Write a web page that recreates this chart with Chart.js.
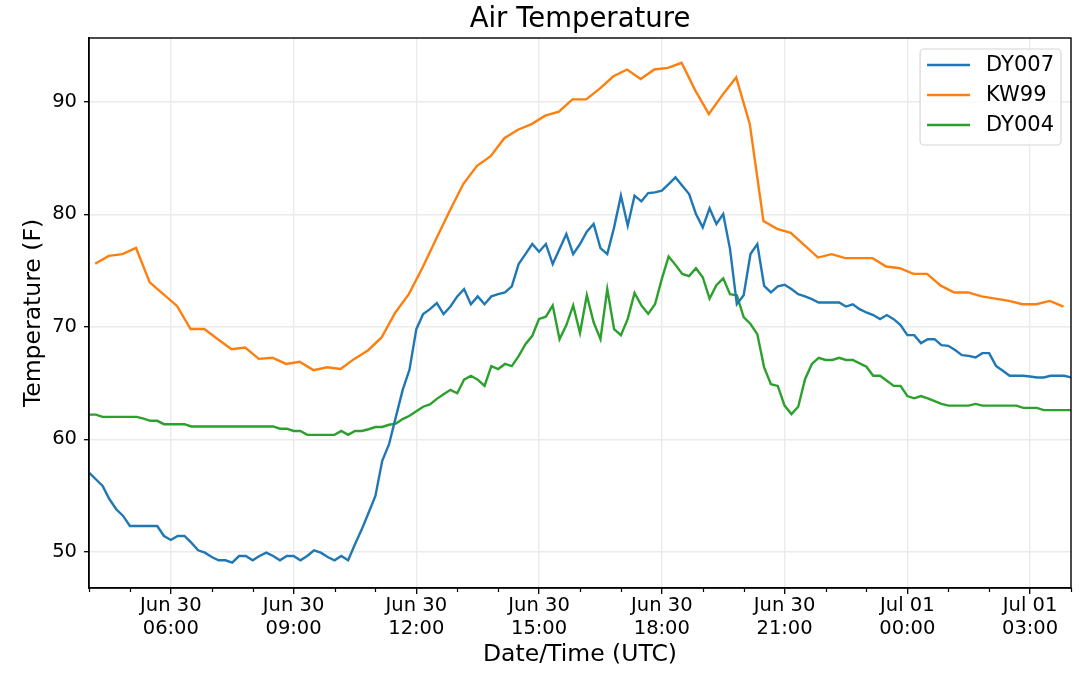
<!DOCTYPE html>
<html><head><meta charset="utf-8">
<script src="https://cdn.jsdelivr.net/npm/chart.js@4.4.0/dist/chart.umd.min.js"></script>
<style>html,body{margin:0;padding:0;background:#fff;overflow:hidden;}</style>
</head><body>
<canvas id="c" width="1080" height="689"></canvas>
<script>
// ---------------- data ----------------
const seriesNames = ["DY007", "KW99", "DY004"];
const seriesColors = ["#1f77b4", "#ff7f0e", "#2ca02c"];

// hours since Jun 30 00:00 UTC
const dyStartHour = 4;            // 04:00 Jun 30
const dyStepMinutes = 10;
const kwStartHour = 4 + 9 / 60;   // 04:09 Jun 30
const kwStepMinutes = 20;

const dy007 = [
  57.05, 56.46, 55.87, 54.68, 53.79, 53.2, 52.31, 52.31, 52.31, 52.31,
  52.31, 51.42, 51.07, 51.42, 51.42, 50.83, 50.15, 49.94, 49.55, 49.26,
  49.26, 49.05, 49.64, 49.64, 49.26, 49.64, 49.94, 49.64, 49.26, 49.64,
  49.64, 49.26, 49.64, 50.15, 49.94, 49.55, 49.26, 49.64, 49.26, 50.68,
  52.01, 53.49, 54.98, 58.09, 59.57, 62.0, 64.4, 66.2, 69.79, 71.13,
  71.57, 72.1, 71.13, 71.8, 72.7, 73.35, 72.0, 72.7, 72.0, 72.7,
  72.9, 73.05, 73.59, 75.57, 76.46, 77.35, 76.67, 77.35, 75.57, 76.9,
  78.24, 76.46, 77.35, 78.45, 79.13, 76.99, 76.46, 78.83, 81.65, 78.98,
  81.65, 81.14, 81.88, 81.94, 82.09, 82.68, 83.27, 82.53, 81.79, 80.02,
  78.83, 80.52, 79.13, 80.02, 76.9, 72.0, 72.8, 76.46, 77.35, 73.64,
  73.05, 73.59, 73.73, 73.35, 72.9, 72.7, 72.46, 72.16, 72.16, 72.16,
  72.16, 71.8, 72.0, 71.57, 71.27, 71.04, 70.68, 71.04, 70.68, 70.15,
  69.26, 69.26, 68.55, 68.9, 68.9, 68.37, 68.31, 67.93, 67.48, 67.42,
  67.27, 67.66, 67.66, 66.53, 66.09, 65.65, 65.65, 65.65, 65.59, 65.5,
  65.5, 65.65, 65.65, 65.65, 65.5
];

const kw99 = [
  75.6, 76.3, 76.45, 77.0, 73.95, 72.9, 71.85, 69.8, 69.8, 68.9,
  68.0, 68.15, 67.15, 67.25, 66.7, 66.9, 66.15, 66.4, 66.25, 67.15,
  67.9, 69.05, 71.25, 72.9, 75.25, 77.8, 80.3, 82.7, 84.3, 85.15,
  86.75, 87.5, 88.0, 88.75, 89.1, 90.2, 90.2, 91.15, 92.25, 92.85,
  92.0, 92.85, 93.0, 93.45, 91.0, 88.9, 90.6, 92.15, 88.0, 79.4,
  78.7, 78.35, 77.25, 76.15, 76.45, 76.1, 76.1, 76.1, 75.35, 75.2,
  74.7, 74.7, 73.65, 73.05, 73.05, 72.7, 72.5, 72.3, 72.0, 72.0,
  72.3, 71.8
];

const dy004 = [
  62.2, 62.2, 62.0, 62.0, 62.0, 62.0, 62.0, 62.0, 61.85, 61.65,
  61.65, 61.35, 61.35, 61.35, 61.35, 61.15, 61.15, 61.15, 61.15, 61.15,
  61.15, 61.15, 61.15, 61.15, 61.15, 61.15, 61.15, 61.15, 60.95, 60.95,
  60.75, 60.75, 60.4, 60.4, 60.4, 60.4, 60.4, 60.75, 60.4, 60.75,
  60.75, 60.9, 61.1, 61.1, 61.3, 61.4, 61.8, 62.1, 62.5, 62.9,
  63.1, 63.6, 64.0, 64.4, 64.1, 65.3, 65.65, 65.3, 64.75, 66.5,
  66.25, 66.7, 66.5, 67.4, 68.45, 69.2, 70.7, 70.9, 71.9, 68.9,
  70.15, 71.9, 69.45, 72.8, 70.4, 68.9, 73.35, 69.8, 69.25, 70.7,
  73.0, 71.9, 71.15, 72.0, 74.25, 76.25, 75.5, 74.7, 74.5, 75.2,
  74.4, 72.5, 73.7, 74.3, 72.9, 72.8, 70.85, 70.25, 69.35, 66.4,
  64.9, 64.75, 63.0, 62.25, 62.9, 65.35, 66.7, 67.25, 67.05, 67.05,
  67.25, 67.05, 67.05, 66.75, 66.45, 65.65, 65.65, 65.2, 64.75, 64.75,
  63.85, 63.65, 63.85, 63.65, 63.4, 63.15, 63.0, 63.0, 63.0, 63.0,
  63.15, 63.0, 63.0, 63.0, 63.0, 63.0, 63.0, 62.8, 62.8, 62.8,
  62.6, 62.6, 62.6, 62.6, 62.6
];

const xTickHours = [6, 9, 12, 15, 18, 21, 24, 27];
const xTickLabels = [
  ["Jun 30", "06:00"], ["Jun 30", "09:00"], ["Jun 30", "12:00"], ["Jun 30", "15:00"],
  ["Jun 30", "18:00"], ["Jun 30", "21:00"], ["Jul 01", "00:00"], ["Jul 01", "03:00"]
];
const yTicks = [50, 60, 70, 80, 90];

const xMin = 4, xMax = 28;
const yMin = 46.8, yMax = 95.65;

// ---------------- build ----------------
function toPoints(values, startHour, stepMin) {
  return values.map((v, i) => ({ x: startHour + i * stepMin / 60, y: v }));
}
const seriesData = [
  toPoints(dy007, dyStartHour, dyStepMinutes),
  toPoints(kw99, kwStartHour, kwStepMinutes),
  toPoints(dy004, dyStartHour, dyStepMinutes)
];

const FONT = "'DejaVu Sans', 'Liberation Sans', sans-serif";
Chart.defaults.font.family = FONT;
Chart.defaults.color = "#000";

const frameAndMinor = {
  id: "frameAndMinor",
  afterDatasetsDraw(chart) {
    const ctx = chart.ctx, a = chart.chartArea, xs = chart.scales.x;
    ctx.save();
    ctx.strokeStyle = "#000";
    ctx.lineWidth = 1.2;
    ctx.beginPath();
    for (let h = Math.ceil(xMin); h <= xMax; h++) {
      if (xTickHours.includes(h)) continue;
      const px = Math.round(xs.getPixelForValue(h)) + 0.5;
      ctx.moveTo(px, a.bottom);
      ctx.lineTo(px, a.bottom + 4);
    }
    ctx.stroke();
    ctx.lineWidth = 1.4;
    ctx.strokeRect(a.left, a.top, a.right - a.left, a.bottom - a.top);
    ctx.restore();
  }
};

const mplLegend = {
  id: "mplLegend",
  afterDraw(chart) {
    const ctx = chart.ctx, a = chart.chartArea;
    const fontPx = 21;
    ctx.save();
    ctx.font = fontPx + "px " + FONT;
    const textW = Math.max(...seriesNames.map(n => ctx.measureText(n).width));
    const padL = 7, lineLen = 43, gap = 16, padR = 7, rowH = 30, padT = 16;
    const w = padL + lineLen + gap + textW + padR;
    const h = rowH * seriesNames.length + 6;
    const x0 = a.right - 10 - w, y0 = a.top + 11;
    const r = 4;
    ctx.beginPath();
    ctx.moveTo(x0 + r, y0);
    ctx.arcTo(x0 + w, y0, x0 + w, y0 + h, r);
    ctx.arcTo(x0 + w, y0 + h, x0, y0 + h, r);
    ctx.arcTo(x0, y0 + h, x0, y0, r);
    ctx.arcTo(x0, y0, x0 + w, y0, r);
    ctx.closePath();
    ctx.fillStyle = "rgba(255,255,255,0.8)";
    ctx.fill();
    ctx.strokeStyle = "#d6d6d6";
    ctx.lineWidth = 1.2;
    ctx.stroke();
    seriesNames.forEach((name, i) => {
      const cy = y0 + padT + i * rowH;
      ctx.strokeStyle = seriesColors[i];
      ctx.lineWidth = 2.4;
      ctx.beginPath();
      ctx.moveTo(x0 + padL, cy);
      ctx.lineTo(x0 + padL + lineLen, cy);
      ctx.stroke();
      ctx.fillStyle = "#000";
      ctx.textAlign = "left";
      ctx.textBaseline = "middle";
      ctx.fillText(name, x0 + padL + lineLen + gap, cy + 1);
    });
    ctx.restore();
  }
};

new Chart(document.getElementById("c"), {
  type: "line",
  data: {
    datasets: seriesNames.map((name, i) => ({
      label: name,
      data: seriesData[i],
      borderColor: seriesColors[i],
      backgroundColor: seriesColors[i],
      borderWidth: 2.4,
      pointRadius: 0,
      tension: 0,
      fill: false
    }))
  },
  options: {
    responsive: false,
    animation: false,
    devicePixelRatio: 1,
    parsing: false,
    layout: { padding: { left: 0, right: 9, top: 0, bottom: 0 } },
    plugins: {
      legend: { display: false },
      tooltip: { enabled: false },
      title: {
        display: true,
        text: "Air Temperature",
        fullSize: false,
        color: "#000",
        font: { size: 27.5, weight: "normal", family: FONT, lineHeight: 1.2 },
        padding: { top: 3, bottom: 2 }
      }
    },
    scales: {
      x: {
        type: "linear",
        position: "bottom",
        min: xMin,
        max: xMax,
        afterBuildTicks: (s) => { s.ticks = xTickHours.map(v => ({ value: v })); },
        afterFit: (s) => { s.height = 101; },
        ticks: {
          autoSkip: false,
          maxRotation: 0,
          minRotation: 0,
          padding: 0,
          color: "#000",
          font: { size: 19.5, family: FONT, lineHeight: 1.2 },
          callback: (v) => { const i = xTickHours.indexOf(v); return i >= 0 ? xTickLabels[i] : ""; }
        },
        grid: {
          color: "#ebebeb",
          lineWidth: 1.4,
          tickLength: 6,
          tickColor: "#000",
          tickWidth: 1.3
        },
        border: { display: true, color: "#000", width: 1.4 },
        title: {
          display: true,
          text: "Date/Time (UTC)",
          color: "#000",
          font: { size: 23.5, family: FONT },
          padding: { top: 0, bottom: 20 }
        }
      },
      y: {
        type: "linear",
        position: "left",
        min: yMin,
        max: yMax,
        afterBuildTicks: (s) => { s.ticks = yTicks.map(v => ({ value: v })); },
        afterFit: (s) => { s.width = 89; },
        ticks: {
          padding: 7,
          color: "#000",
          font: { size: 19.5, family: FONT },
          callback: (v) => String(v)
        },
        grid: {
          color: "#ebebeb",
          lineWidth: 1.4,
          tickLength: 5,
          tickColor: "#000",
          tickWidth: 1.3
        },
        border: { display: true, color: "#000", width: 1.4 },
        title: {
          display: true,
          text: "Temperature (F)",
          color: "#000",
          font: { size: 23.5, family: FONT },
          padding: { top: 20, bottom: 0 }
        }
      }
    }
  },
  plugins: [frameAndMinor, mplLegend]
});
</script>
</body></html>
